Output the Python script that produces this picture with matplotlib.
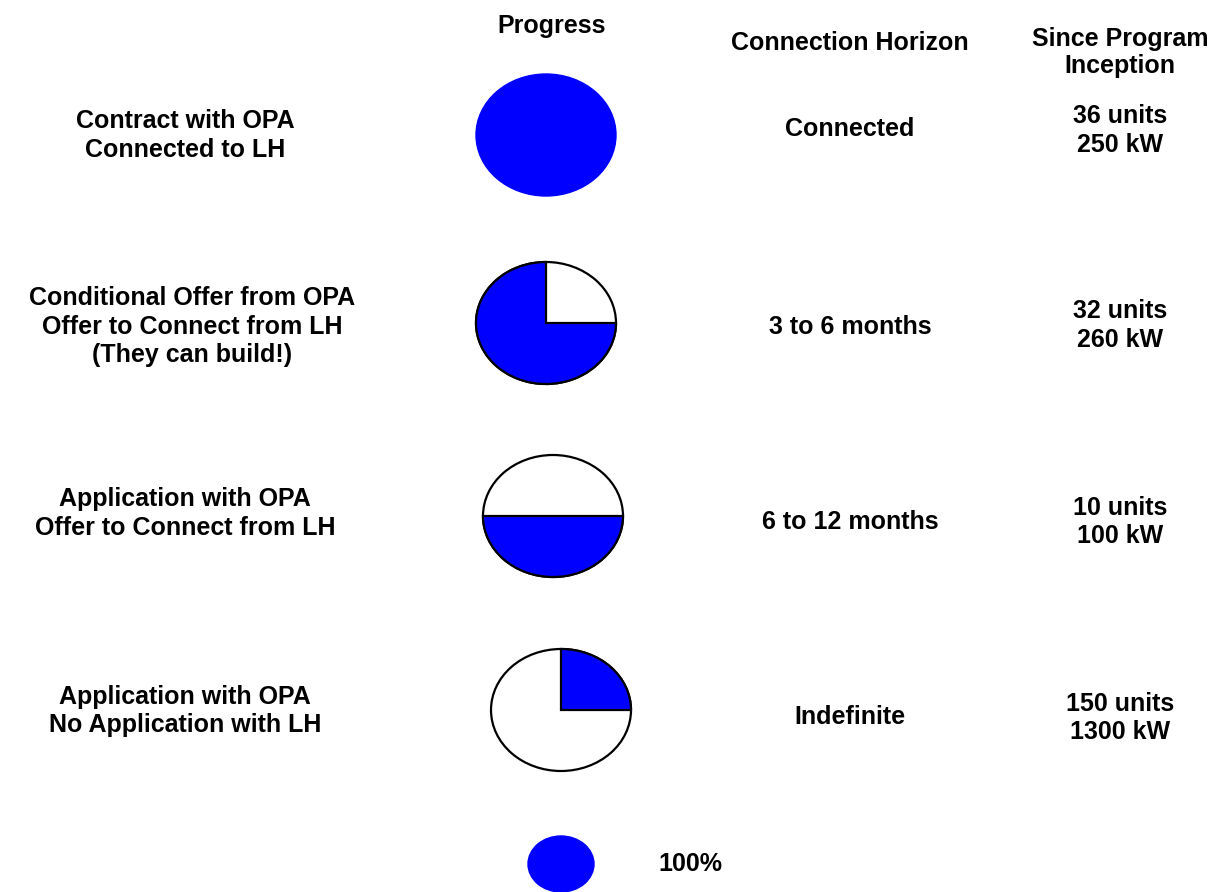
import matplotlib
matplotlib.use('Agg')
import matplotlib.pyplot as plt
from matplotlib.patches import Ellipse, Wedge
from matplotlib.transforms import Affine2D

# ------------------------------------------------------------------------------
# Data
# ------------------------------------------------------------------------------
stages = ['Contract with OPA\nConnected to LH',
          'Conditional Offer from OPA\nOffer to Connect from LH\n(They can build!)',
          'Application with OPA\nOffer to Connect from LH',
          'Application with OPA\nNo Application with LH']
progress = [1.0, 0.75, 0.5, 0.25]
start_angle = [90, 90, 180, 0]
horizon = ['Connected', '3 to 6 months', '6 to 12 months', 'Indefinite']
units = [36, 32, 10, 150]
kw = [250, 260, 100, 1300]

# ------------------------------------------------------------------------------
# Layout (pixel coordinates)
# ------------------------------------------------------------------------------
row_y = [135, 323, 516, 710]
ball_x = [546, 546, 553, 561]
label_x = [185, 192, 185, 185]
label_y = [135.5, 326.5, 513.5, 711]
horizon_y = [129.5, 327, 522, 717]
units_y = [130.5, 325.5, 522, 718]
rx, ry = 70, 61
blue = '#0000FF'

plt.rcParams['font.family'] = ['Liberation Sans', 'DejaVu Sans']
plt.rcParams['font.weight'] = 'bold'
fs = 18
ls = 1.22

fig = plt.figure(figsize=(12.19, 8.92), dpi=100)
ax = fig.add_axes([0, 0, 1, 1])
ax.set_xlim(0, 1219)
ax.set_ylim(892, 0)
ax.axis('off')


def ball(cx, cy, frac, t0, rx, ry):
    tr = Affine2D().scale(rx, -ry).translate(cx, cy) + ax.transData
    if frac >= 1:
        ax.add_patch(Ellipse((cx, cy), 2 * rx, 2 * ry, facecolor=blue,
                             edgecolor=blue, lw=1))
        return
    ax.add_patch(Ellipse((cx, cy), 2 * rx, 2 * ry, facecolor='white',
                         edgecolor='black', lw=1.6))
    ax.add_patch(Wedge((0, 0), 1, t0, t0 + 360 * frac, facecolor=blue,
                       edgecolor='black', lw=1.6, transform=tr))


# Headers
ax.text(552, 26, 'Progress', ha='center', va='center', fontsize=fs)
ax.text(850, 42.5, 'Connection Horizon', ha='center', va='center',
        fontsize=fs)
ax.text(1120, 52.5, 'Since Program\nInception', ha='center', va='center',
        fontsize=fs, linespacing=1.12)

for i in range(len(stages)):
    ball(ball_x[i], row_y[i], progress[i], start_angle[i], rx, ry)
    ax.text(label_x[i], label_y[i], stages[i], ha='center', va='center',
            fontsize=fs, linespacing=ls)
    ax.text(850, horizon_y[i], horizon[i], ha='center', va='center',
            fontsize=fs)
    ax.text(1120, units_y[i], '%d units\n%d kW' % (units[i], kw[i]),
            ha='center', va='center', fontsize=fs, linespacing=ls)

# Legend
ball(561, 864, 1.0, 0, 33, 28)
ax.text(690, 864, '100%', ha='center', va='center', fontsize=fs)

fig.savefig('out.png', dpi=100)
